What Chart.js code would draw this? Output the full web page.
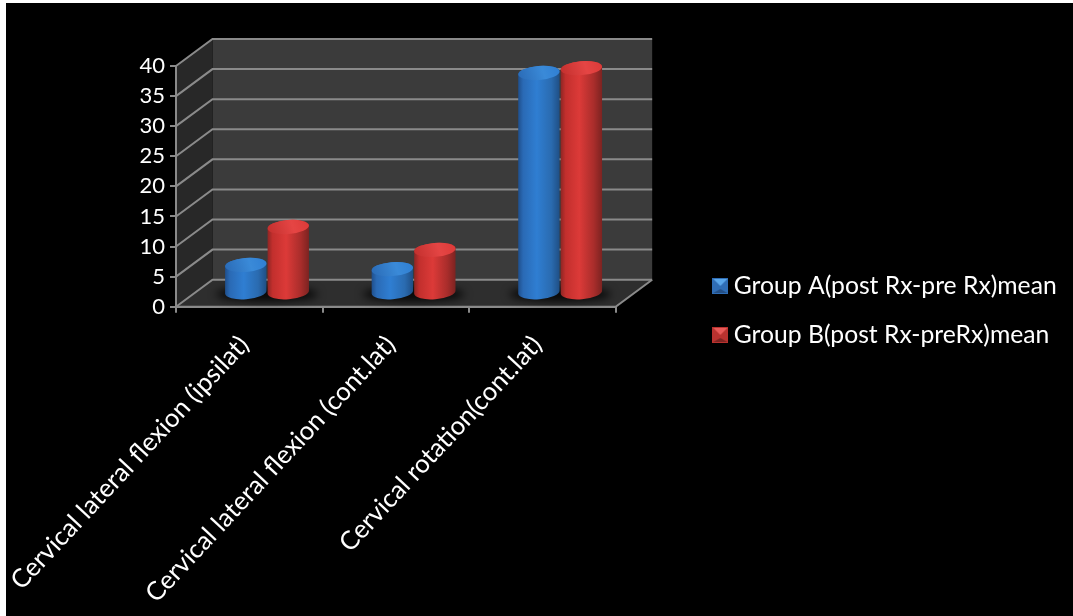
<!DOCTYPE html>
<html>
<head>
<meta charset="utf-8">
<title>Cervical range of motion</title>
<script src="https://cdn.jsdelivr.net/npm/chart.js@4"></script>
<style>
  html, body { margin: 0; padding: 0; background: #fff; overflow: hidden; }
  body { padding: 3px 0 0 6px; }
  canvas { display: block; background: #000; }
</style>
</head>
<body>
<canvas id="grafico" width="1067" height="613"></canvas>
<script>
const categorias = [
  "Cervical lateral flexion (ipsilat)",
  "Cervical lateral flexion (cont.lat)",
  "Cervical rotation(cont.lat)",
];
const nombresSeries = ["Group A(post Rx-pre Rx)mean", "Group B(post Rx-preRx)mean"];
const grupoA = [4.7, 4, 36.6];
const grupoB = [11, 7.2, 37.4];

const GRIS = "#8a8a8a";
const FONDO_X = 36.5; // depth of the fake 3d box
const FONDO_Y = -27;

function marcador(claro, medio, oscuro) {
  const c = document.createElement("canvas");
  c.width = 16;
  c.height = 16;
  const g = c.getContext("2d");
  g.fillStyle = medio;
  g.fillRect(0, 0, 16, 16);
  g.fillStyle = claro;
  g.beginPath();
  g.moveTo(1, 1);
  g.lineTo(15, 1);
  g.lineTo(8, 8);
  g.closePath();
  g.fill();
  g.fillStyle = oscuro;
  g.beginPath();
  g.moveTo(1, 15);
  g.lineTo(15, 15);
  g.lineTo(8, 11);
  g.closePath();
  g.fill();
  return c;
}

const marcadores = [
  marcador("#5aa6ea", "#2f6db5", "#244f85"),
  marcador("#e85a58", "#b9322f", "#7e2422"),
];

function cilindro(ctx, el, tonos) {
  const cx = el.x + 17.75;
  const arriba = el.y + FONDO_Y / 2;
  const abajo = el.base + FONDO_Y / 2;
  const rx = el.width / 2 - 0.5;
  const ry = 7;
  const giro = -0.08;
  const izq = cx - rx * Math.cos(giro);
  const der = cx + rx * Math.cos(giro);
  const caida = rx * Math.sin(giro);

  const g = ctx.createLinearGradient(izq, 0, der, 0);
  g.addColorStop(0, tonos[0]);
  g.addColorStop(0.12, tonos[1]);
  g.addColorStop(0.45, tonos[2]);
  g.addColorStop(0.8, tonos[3]);
  g.addColorStop(1, tonos[4]);

  ctx.save();
  ctx.fillStyle = g;
  ctx.beginPath();
  ctx.moveTo(izq, arriba - caida);
  ctx.lineTo(izq, abajo - caida);
  ctx.ellipse(cx, abajo, rx, ry, giro, Math.PI, 0, true);
  ctx.lineTo(der, arriba + caida);
  ctx.ellipse(cx, arriba, rx, ry, giro, 0, Math.PI, true);
  ctx.closePath();
  ctx.fill();

  const t = ctx.createLinearGradient(izq, arriba + ry, der, arriba - ry);
  t.addColorStop(0, tonos[1]);
  t.addColorStop(0.6, tonos[5]);
  t.addColorStop(1, tonos[2]);
  ctx.fillStyle = t;
  ctx.beginPath();
  ctx.ellipse(cx, arriba, rx, ry, giro, 0, Math.PI * 2);
  ctx.fill();
  ctx.restore();
}

const tonosSerie = [
  ["#1f4f8c", "#2a6ab5", "#2f7ed2", "#2a6bb0", "#1f4f85", "#3a8ad8"],
  ["#8e2624", "#c22f2d", "#dc3a38", "#a92d2b", "#7c2321", "#e54544"],
];

const caja3d = {
  id: "caja3d",
  beforeDatasetsDraw(chart) {
    const { ctx, chartArea: a, scales: { y } } = chart;
    const cero = y.getPixelForValue(0);
    const tope = y.getPixelForValue(40);
    ctx.save();
    // back wall
    ctx.fillStyle = "#3b3b3b";
    ctx.fillRect(a.left + FONDO_X, tope + FONDO_Y, a.right - a.left, cero - tope);
    // side wall
    ctx.fillStyle = "#282828";
    ctx.beginPath();
    ctx.moveTo(a.left, tope);
    ctx.lineTo(a.left + FONDO_X, tope + FONDO_Y);
    ctx.lineTo(a.left + FONDO_X, cero + FONDO_Y);
    ctx.lineTo(a.left, cero);
    ctx.closePath();
    ctx.fill();
    // floor
    ctx.fillStyle = "#2e2e2e";
    ctx.beginPath();
    ctx.moveTo(a.left, cero);
    ctx.lineTo(a.right, cero);
    ctx.lineTo(a.right + FONDO_X, cero + FONDO_Y);
    ctx.lineTo(a.left + FONDO_X, cero + FONDO_Y);
    ctx.closePath();
    ctx.fill();

    ctx.strokeStyle = GRIS;
    ctx.lineWidth = 2;
    y.ticks.forEach(function (tick) {
      const py = y.getPixelForValue(tick.value);
      ctx.beginPath();
      ctx.moveTo(a.left, py);
      ctx.lineTo(a.left + FONDO_X, py + FONDO_Y);
      ctx.lineTo(a.right + FONDO_X, py + FONDO_Y);
      ctx.stroke();
    });
    ctx.beginPath();
    ctx.moveTo(a.left, tope);
    ctx.lineTo(a.left, cero);
    ctx.lineTo(a.right, cero);
    ctx.lineTo(a.right + FONDO_X, cero + FONDO_Y);
    ctx.stroke();

    // soft shadow under each pair of bars
    const m0 = chart.getDatasetMeta(0).data;
    const m1 = chart.getDatasetMeta(1).data;
    ctx.filter = "blur(4px)";
    ctx.fillStyle = "rgba(0,0,0,0.85)";
    m0.forEach(function (el, i) {
      const cx = (el.x + m1[i].x) / 2 + 17.75;
      ctx.beginPath();
      ctx.ellipse(cx, el.base + FONDO_Y / 2 + 2, el.width * 1.2, 7, 0, 0, Math.PI * 2);
      ctx.fill();
    });
    ctx.restore();
  },
  beforeDatasetDraw(chart, args) {
    args.meta.data.forEach(function (el) {
      cilindro(chart.ctx, el, tonosSerie[args.index]);
    });
    return false;
  },
};

let contexto = document.getElementById("grafico");
new Chart(contexto, {
  type: "bar",
  plugins: [caja3d],
  data: {
    labels: categorias,
    datasets: [
      { label: nombresSeries[0], data: grupoA, backgroundColor: "#2f7ed2" },
      { label: nombresSeries[1], data: grupoB, backgroundColor: "#dc3a38" },
    ],
  },
  options: {
    responsive: false,
    animation: false,
    layout: { autoPadding: false, padding: { top: 2, left: 0, right: 6.3, bottom: 0 } },
    datasets: { bar: { categoryPercentage: 0.58, barPercentage: 1 } },
    plugins: {
      tooltip: { enabled: false },
      legend: {
        position: "right",
        maxWidth: 420,
        labels: {
          color: "#ffffff",
          font: { family: "Lato", size: 24.7 },
          padding: 24.3,
          boxWidth: 2,
          usePointStyle: true,
          generateLabels: function (chart) {
            return chart.data.datasets.map(function (ds, i) {
              return { text: ds.label, pointStyle: marcadores[i], fontColor: "#ffffff", datasetIndex: i };
            });
          },
        },
      },
    },
    scales: {
      x: {
        afterFit: function (eje) {
          eje.height = 309.3;
          eje.paddingLeft = 0;
          eje.paddingRight = 0;
        },
        grid: { color: GRIS, lineWidth: 2, drawOnChartArea: false, tickLength: 6 },
        border: { color: GRIS, width: 2 },
        ticks: {
          color: "#ffffff",
          font: { family: "Lato", size: 25.7 },
          minRotation: 47,
          maxRotation: 47,
          autoSkip: false,
          padding: 17,
          labelOffset: -5,
        },
      },
      y: {
        min: 0,
        max: 40,
        afterFit: function (eje) { eje.width = 170; },
        grid: { color: GRIS, lineWidth: 2, drawOnChartArea: false, tickLength: 6 },
        border: { color: GRIS, width: 2 },
        ticks: {
          color: "#ffffff",
          font: { family: "Lato", size: 22 },
          stepSize: 5,
          padding: 5,
        },
      },
      // empty axes, they only hold the space above the box and before the legend
      hueco: {
        type: "linear",
        position: "right",
        afterFit: function (eje) { eje.width = 79.4; },
        grid: { display: false },
        border: { display: false },
        ticks: { display: false },
      },
      techo: {
        type: "linear",
        axis: "x",
        position: "top",
        afterFit: function (eje) { eje.height = 61; },
        grid: { display: false },
        border: { display: false },
        ticks: { display: false },
      },
    },
  },
});
</script>
</body>
</html>
